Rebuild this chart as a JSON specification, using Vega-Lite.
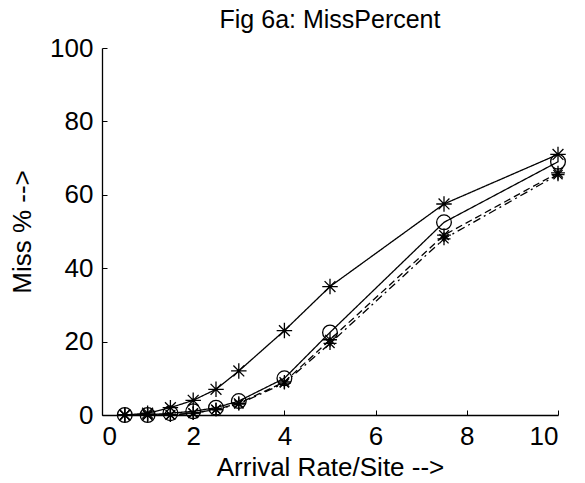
{
  "$schema": "https://vega.github.io/schema/vega-lite/v6.json",
  "width": 456,
  "height": 367,
  "autosize": "none",
  "padding": {"left": 102, "top": 48, "right": 27, "bottom": 68},
  "background": "white",
  "config": {
    "view": {"stroke": null},
    "font": "Liberation Sans",
    "axis": {"grid": false, "domainColor": "black", "tickColor": "black", "labelColor": "black", "titleColor": "black", "labelFont": "Liberation Sans", "titleFont": "Liberation Sans", "labelFontSize": 26, "titleFontSize": 26, "titleFontWeight": "normal", "tickSize": -5, "domainWidth": 1.3}
  },
  "title": {"text": "Fig 6a: MissPercent", "fontSize": 25, "fontWeight": "normal", "font": "Liberation Sans", "color": "black", "offset": 2, "anchor": "middle"},
  "data": {"values": [
    {"s": "A", "x": 0.5, "y": 0}, {"s": "A", "x": 1, "y": 0.5}, {"s": "A", "x": 1.5, "y": 2}, {"s": "A", "x": 2, "y": 4}, {"s": "A", "x": 2.5, "y": 7}, {"s": "A", "x": 3, "y": 12}, {"s": "A", "x": 4, "y": 23}, {"s": "A", "x": 5, "y": 35}, {"s": "A", "x": 7.5, "y": 57.5}, {"s": "A", "x": 10, "y": 71},
    {"s": "B", "x": 0.5, "y": 0}, {"s": "B", "x": 1, "y": 0}, {"s": "B", "x": 1.5, "y": 0.5}, {"s": "B", "x": 2, "y": 1}, {"s": "B", "x": 2.5, "y": 2}, {"s": "B", "x": 3, "y": 3.8}, {"s": "B", "x": 4, "y": 10}, {"s": "B", "x": 5, "y": 22.5}, {"s": "B", "x": 7.5, "y": 52.5}, {"s": "B", "x": 10, "y": 69},
    {"s": "C", "x": 0.5, "y": 0}, {"s": "C", "x": 1, "y": 0}, {"s": "C", "x": 1.5, "y": 0}, {"s": "C", "x": 2, "y": 0.5}, {"s": "C", "x": 2.5, "y": 1.5}, {"s": "C", "x": 3, "y": 3.2}, {"s": "C", "x": 4, "y": 9}, {"s": "C", "x": 5, "y": 20.5}, {"s": "C", "x": 7.5, "y": 49}, {"s": "C", "x": 10, "y": 66},
    {"s": "D", "x": 0.5, "y": 0}, {"s": "D", "x": 1, "y": 0}, {"s": "D", "x": 1.5, "y": 0}, {"s": "D", "x": 2, "y": 0.5}, {"s": "D", "x": 2.5, "y": 1.5}, {"s": "D", "x": 3, "y": 3}, {"s": "D", "x": 4, "y": 8.7}, {"s": "D", "x": 5, "y": 19.5}, {"s": "D", "x": 7.5, "y": 48}, {"s": "D", "x": 10, "y": 65.5}
  ]},
  "encoding": {
    "x": {"field": "x", "type": "quantitative", "scale": {"domain": [0, 10], "nice": false}, "axis": {"values": [0, 2, 4, 6, 8, 10], "title": "Arrival Rate/Site -->", "labelPadding": 13, "titlePadding": 5}},
    "y": {"field": "y", "type": "quantitative", "scale": {"domain": [0, 100], "nice": false}, "axis": {"values": [0, 20, 40, 60, 80, 100], "title": "Miss % -->", "labelPadding": 14, "titlePadding": 14}}
  },
  "layer": [
    {"mark": {"type": "line", "color": "black", "strokeWidth": 1.3},
     "encoding": {"detail": {"field": "s"}, "strokeDash": {"field": "s", "type": "nominal", "legend": null, "scale": {"domain": ["A", "B", "C", "D"], "range": [[1, 0], [1, 0], [7, 4], [8, 4, 2, 4]]}}}},
    {"mark": {"type": "point", "filled": false, "color": "black", "strokeWidth": 1.3, "opacity": 1},
     "encoding": {
       "size": {"field": "s", "type": "nominal", "legend": null, "scale": {"domain": ["A", "B", "C", "D"], "range": [240, 170, 240, 240]}},
       "shape": {"field": "s", "type": "nominal", "legend": null, "scale": {"domain": ["A", "B", "C", "D"], "range": ["M-1,0L1,0M0,-1L0,1M-0.7,-0.7L0.7,0.7M-0.7,0.7L0.7,-0.7", "circle", "M-1,0L1,0M0,-1L0,1M-0.7,-0.7L0.7,0.7M-0.7,0.7L0.7,-0.7", "M-1,0L1,0M0,-1L0,1M-0.7,-0.7L0.7,0.7M-0.7,0.7L0.7,-0.7"]}}}}
  ]
}
